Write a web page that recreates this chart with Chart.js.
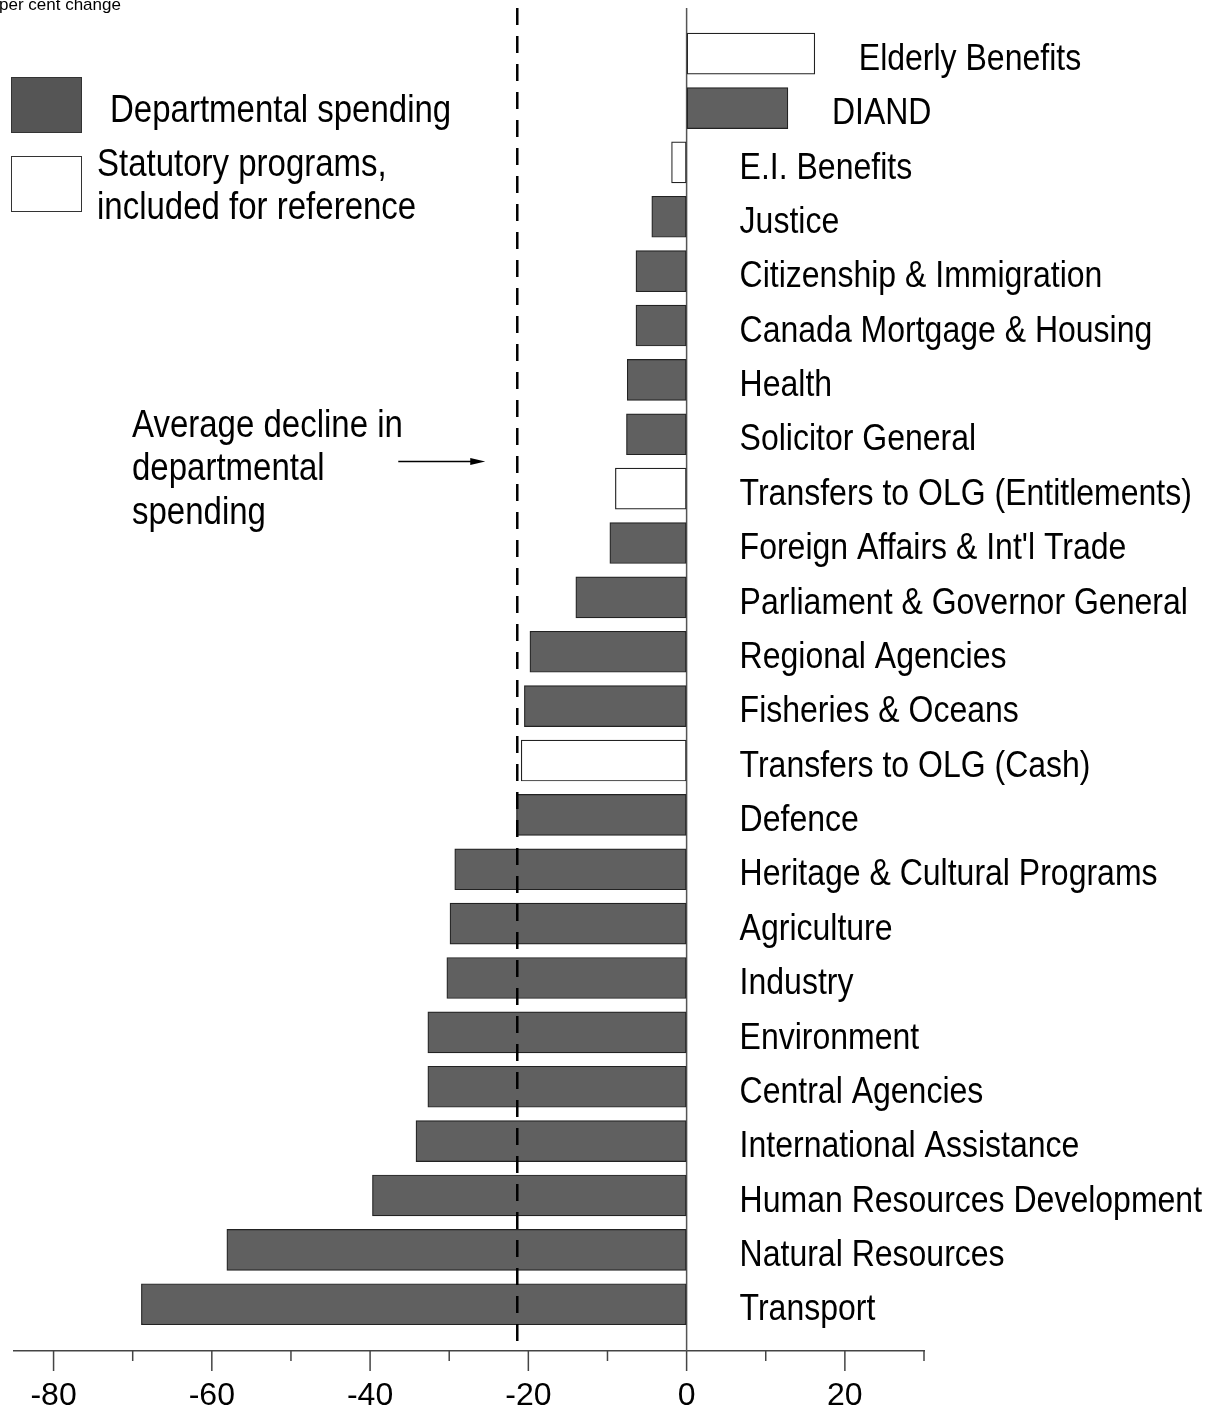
<!DOCTYPE html>
<html>
<head>
<meta charset="utf-8">
<title>Per cent change in program spending</title>
<script src="https://cdn.jsdelivr.net/npm/chart.js@4"></script>
<style>
  html, body { margin: 0; padding: 0; background: #fff; }
  #wrap { position: relative; width: 1217px; height: 1420px; }
</style>
</head>
<body>
<div id="wrap"><canvas id="chart" width="1217" height="1420"></canvas></div>
<script>
// values (per cent change)
const categories = [
    'Elderly Benefits', 'DIAND', 'E.I. Benefits', 'Justice',
    'Citizenship & Immigration', 'Canada Mortgage & Housing', 'Health',
    'Solicitor General', 'Transfers to OLG (Entitlements)',
    "Foreign Affairs & Int'l Trade", 'Parliament & Governor General',
    'Regional Agencies', 'Fisheries & Oceans', 'Transfers to OLG (Cash)',
    'Defence', 'Heritage & Cultural Programs', 'Agriculture', 'Industry',
    'Environment', 'Central Agencies', 'International Assistance',
    'Human Resources Development', 'Natural Resources', 'Transport'
];
const changes = [
    16.2, 12.8, -1.9, -4.4, -6.4, -6.4, -7.5, -7.6, -9.0, -9.7, -14.0,
    -19.8, -20.5, -20.9, -21.5, -29.3, -29.9, -30.3, -32.7, -32.7, -34.2,
    -39.7, -58.1, -68.9
];
// true = statutory program (white bar), false = departmental spending
const statutory = [
    true, false, true, false, false, false, false, false, true, false, false,
    false, false, true, false, false, false, false, false, false, false,
    false, false, false
];
const averageDecline = -21.4;
const xTickLabels = [-80, -60, -40, -20, 0, 20];
const legendItems = [
    { lines: ['Departmental spending'], statutory: false },
    { lines: ['Statutory programs,', 'included for reference'], statutory: true }
];
const noteLines = ['Average decline in', 'departmental', 'spending'];

const FONT = "'Liberation Sans', Arial, Helvetica, sans-serif";
const DARK = '#606060';
const STRETCH = 1.15; // text in the reference is a bit taller than wide
const Y_MIN = -0.84, Y_MAX = 23.86;

function stretchedText(ctx, text, x, y, size) {
    ctx.save();
    ctx.font = size + 'px ' + FONT;
    ctx.fillStyle = '#000';
    ctx.textAlign = 'left';
    ctx.textBaseline = 'middle';
    ctx.translate(x, y);
    ctx.scale(1, STRETCH);
    ctx.fillText(text, 0, 0);
    ctx.restore();
}

const overlay = {
    id: 'overlay',
    beforeDatasetsDraw(chart) {
        const { ctx, chartArea, scales: { x } } = chart;
        // zero line
        const x0 = x.getPixelForValue(0);
        ctx.save();
        ctx.strokeStyle = '#555';
        ctx.lineWidth = 1.5;
        ctx.beginPath();
        ctx.moveTo(x0, chartArea.top);
        ctx.lineTo(x0, chartArea.bottom);
        ctx.stroke();
        ctx.restore();
    },
    afterDatasetsDraw(chart) {
        const { ctx, chartArea, scales: { x, y } } = chart;

        // average decline dashed line
        const xa = x.getPixelForValue(averageDecline);
        ctx.save();
        ctx.strokeStyle = '#000';
        ctx.lineWidth = 2.5;
        ctx.setLineDash([17, 11]);
        ctx.beginPath();
        ctx.moveTo(xa, chartArea.top);
        ctx.lineTo(xa, chartArea.bottom);
        ctx.stroke();
        ctx.restore();

        // tick marks, long every 20, short every 10
        ctx.save();
        ctx.strokeStyle = '#444';
        ctx.lineWidth = 1.5;
        for (let v = -80; v <= 30; v += 10) {
            const px = x.getPixelForValue(v);
            const len = v % 20 === 0 ? 20 : 10;
            ctx.beginPath();
            ctx.moveTo(px, chartArea.bottom);
            ctx.lineTo(px, chartArea.bottom + len);
            ctx.stroke();
        }
        ctx.restore();

        // category labels, right of the zero line or of a positive bar
        categories.forEach((name, i) => {
            const v = changes[i];
            const lx = x.getPixelForValue(Math.max(v, 0)) + (v > 0 ? 44 : 53);
            stretchedText(ctx, name, lx, y.getPixelForValue(i) + 6, 32);
        });

        // note and arrow
        const noteY = y.getPixelForValue(7.5);
        noteLines.forEach((t, k) => {
            stretchedText(ctx, t, 132, noteY - 35 + k * 43.5, 33);
        });
        const tip = xa - 32;
        ctx.save();
        ctx.strokeStyle = '#000';
        ctx.fillStyle = '#000';
        ctx.lineWidth = 1.5;
        ctx.beginPath();
        ctx.moveTo(tip - 87, noteY);
        ctx.lineTo(tip - 12, noteY);
        ctx.stroke();
        ctx.beginPath();
        ctx.moveTo(tip, noteY);
        ctx.lineTo(tip - 15, noteY - 3.5);
        ctx.lineTo(tip - 15, noteY + 3.5);
        ctx.closePath();
        ctx.fill();
        ctx.restore();

        // legend
        const boxes = [[11, 77], [11, 156]];
        legendItems.forEach((item, k) => {
            const [bx, by] = boxes[k];
            ctx.save();
            ctx.fillStyle = item.statutory ? '#fff' : '#555';
            ctx.strokeStyle = '#333';
            ctx.lineWidth = 1;
            ctx.fillRect(bx, by, 71, 56);
            ctx.strokeRect(bx + 0.5, by + 0.5, 70, 55);
            ctx.restore();
        });
        stretchedText(ctx, legendItems[0].lines[0], 110, 112, 33);
        stretchedText(ctx, legendItems[1].lines[0], 97, 166, 33);
        stretchedText(ctx, legendItems[1].lines[1], 97, 209, 33);

        // unit note, top left
        ctx.save();
        ctx.font = '17px ' + FONT;
        ctx.fillStyle = '#000';
        ctx.textBaseline = 'alphabetic';
        ctx.fillText('per cent change', -1, 10);
        ctx.restore();
    }
};

const ctx = document.getElementById('chart').getContext('2d');
new Chart(ctx, {
    type: 'bar',
    data: {
        datasets: [{
            data: changes.map((v, i) => ({ x: v, y: i })),
            backgroundColor: statutory.map(s => s ? '#ffffff' : DARK),
            borderColor: '#222',
            borderWidth: 1.2,
            borderSkipped: false,
            barThickness: 41
        }]
    },
    options: {
        indexAxis: 'y',
        responsive: false,
        animation: false,
        devicePixelRatio: 1,
        layout: { padding: { left: 14, right: 293, top: 8, bottom: 0 } },
        plugins: {
            legend: { display: false },
            tooltip: { enabled: false }
        },
        scales: {
            x: {
                type: 'linear',
                min: -85,
                max: 30,
                ticks: {
                    stepSize: 10,
                    includeBounds: false,
                    autoSkip: false,
                    maxRotation: 0,
                    padding: 6,
                    color: '#000',
                    font: { size: 32, family: FONT },
                    callback: v => xTickLabels.includes(v) ? String(v) : ''
                },
                grid: {
                    display: true,
                    drawOnChartArea: false,
                    drawTicks: true,
                    tickLength: 20,
                    tickColor: 'rgba(0,0,0,0)'
                },
                border: { display: true, color: '#444', width: 1.5 },
                afterFit: s => { s.height = 69; }
            },
            y: {
                type: 'linear',
                reverse: true,
                offset: false,
                bounds: 'data',
                min: Y_MIN,
                max: Y_MAX,
                display: false,
                afterBuildTicks: s => { s.min = Y_MIN; s.max = Y_MAX; }
            }
        }
    },
    plugins: [overlay]
});
</script>
</body>
</html>
